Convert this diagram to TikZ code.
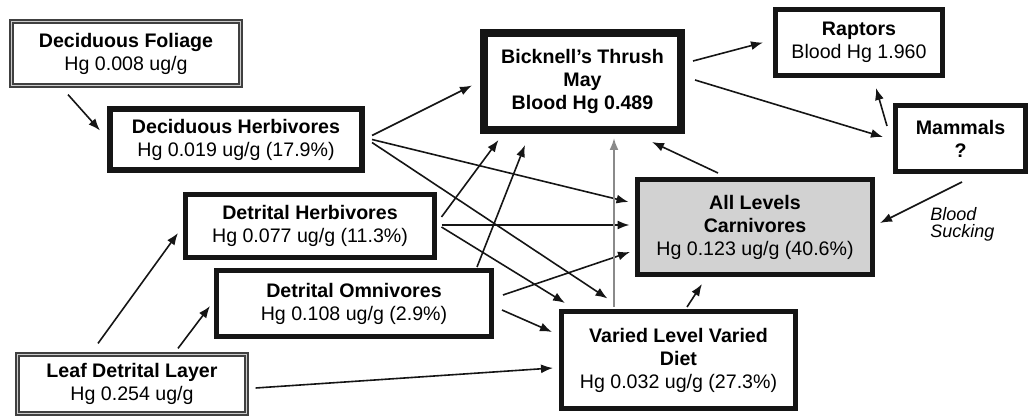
\documentclass[tikz,border=0pt]{standalone}
\usepackage{fontspec}
\setmainfont{Liberation Sans}
\usepackage{tikz}
\usetikzlibrary{arrows.meta,calc}
\definecolor{ink}{HTML}{151515}
\definecolor{rule}{HTML}{8A8A8A}
\definecolor{carnfill}{HTML}{D2D2D2}
\tikzset{
  box/.style={draw=ink,line width=2.5pt,align=center,inner sep=0pt,outer sep=0pt,font=\fontsize{9.8}{11.5}\selectfont},
  heavybox/.style={box,line width=4pt},
  dblbox/.style={box,draw=black!75,line width=0.75pt,double=black!20,double distance=0.8pt},
  arr/.style={-{Latex[length=6pt,width=4.5pt]},line width=0.8pt,color=ink},
  grayarr/.style={arr,line width=1pt,color=rule}
}

\begin{document}
\begin{tikzpicture}[x=0.5pt,y=-0.5pt]
  \useasboundingbox (0,0) rectangle (1030,417);
  \node[dblbox,minimum width=114.6pt,minimum height=32.1pt] (fol) at (126,53.5)
    {\textbf{Deciduous Foliage}\\Hg 0.008 ug/g};
  \node[box,line width=3pt,minimum width=126pt,minimum height=30.5pt] (dherb) at (236,139.5)
    {\textbf{Deciduous Herbivores}\\Hg 0.019 ug/g (17.9\%)};
  \node[box,minimum width=124.5pt,minimum height=31.5pt] (detherb) at (310,226)
    {\textbf{Detrital Herbivores}\\Hg 0.077 ug/g (11.3\%)};
  \node[box,minimum width=137.5pt,minimum height=33pt] (detomni) at (354,303.5)
    {\textbf{Detrital Omnivores}\\Hg 0.108 ug/g (2.9\%)};
  \node[dblbox,minimum width=114.6pt,minimum height=29.6pt] (leaf) at (132,384)
    {\textbf{Leaf Detrital Layer}\\Hg 0.254 ug/g};
  \node[heavybox,minimum width=98.5pt,minimum height=48.5pt] (bick) at (582.5,81.5)
    {\textbf{Bicknell’s Thrush}\\\textbf{May}\\\textbf{Blood Hg 0.489}};
  \node[box,minimum width=83.5pt,minimum height=33pt] (rapt) at (859,42.5)
    {\textbf{Raptors}\\Blood Hg 1.960};
  \node[box,minimum width=65pt,minimum height=33pt] (mamm) at (960.5,138.5)
    {\textbf{Mammals}\\\textbf{?}};
  \node[box,fill=carnfill,minimum width=117.5pt,minimum height=47.5pt] (carn) at (755,227)
    {\textbf{All Levels}\\\textbf{Carnivores}\\Hg 0.123 ug/g (40.6\%)};
  \node[box,minimum width=117pt,minimum height=48.5pt] (var) at (678.5,360)
    {\textbf{Varied Level Varied}\\\textbf{Diet}\\Hg 0.032 ug/g (27.3\%)};
  \node[anchor=north west,inner sep=0pt,align=left,font=\fontsize{9}{8.7}\selectfont\itshape] (suck) at (930,207)
    {Blood\\Sucking};

  \draw[arr] ($(fol.south)+(-58,9)$) -- ($(dherb.west)+(-10,-9)$);
  \draw[arr] ($(dherb.east)+(10,-4)$) -- ($(bick.west)+(-12,4)$);
  \draw[arr] ($(dherb.east)+(10,0)$) -- ($(carn.west)+(-9,-25)$);
  \draw[arr] ($(dherb.east)+(10,3)$) -- ($(var.north)+(-71,-13)$);
  \draw[arr] ($(detherb.east)+(7,-9)$) -- ($(bick.south)+(-84,10)$);
  \draw[arr] ($(detherb.east)+(7,-1)$) -- ($(carn.west)+(-8,-2)$);
  \draw[arr] ($(detherb.east)+(7,1)$) -- ($(var.north)+(-113.5,-8.5)$);
  \draw[arr] ($(detomni.north)+(123,-3.5)$) -- ($(bick.south)+(-57.5,15)$);
  \draw[arr] ($(detomni.east)+(11.5,-8.5)$) -- ($(carn.west)+(-7.5,25)$);
  \draw[arr] ($(detomni.east)+(10.5,6.5)$) -- ($(var.west)+(-9.5,-28)$);
  \draw[arr] ($(leaf.north)+(-34,-11)$) -- ($(detherb.west)+(-7.5,7)$);
  \draw[arr] ($(leaf.north)+(46,-6)$) -- ($(detomni.west)+(-6.5,2.5)$);
  \draw[arr] ($(leaf.east)+(9,4)$) -- ($(var.west)+(-8.5,8)$);
  \draw[grayarr] ($(var.north)+(-64.5,-4.5)$) -- ($(bick.south)+(31.5,8)$);
  \draw[arr] ($(carn.north)+(-37,-6.5)$) -- ($(bick.south)+(69.5,12)$);
  \draw[arr] ($(var.north)+(8.5,-4.5)$) -- ($(carn.south)+(-53,9.5)$);
  \draw[arr] ($(bick.east)+(12,-20.5)$) -- ($(rapt.west)+(-12.5,0)$);
  \draw[arr] ($(bick.east)+(14,-1.5)$) -- ($(mamm.west)+(-12.5,-1.5)$);
  \draw[arr] ($(mamm.north west)+(-8.5,20.5)$) -- ($(rapt.south)+(17,12.5)$);
  \draw[arr] ($(mamm.south)+(1.5,10.5)$) -- ($(carn.east)+(7.5,-4)$);
\end{tikzpicture}
\end{document}
